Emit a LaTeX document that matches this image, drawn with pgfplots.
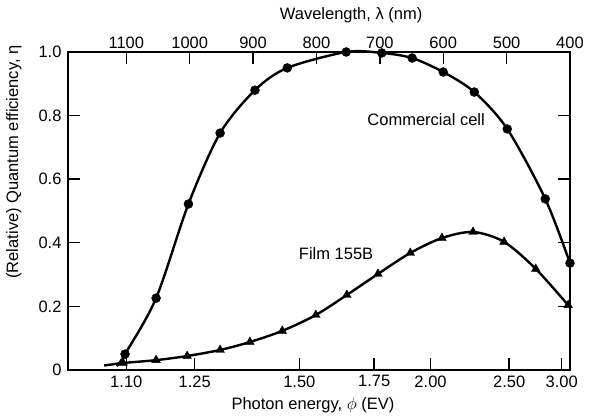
\documentclass[border=0pt]{standalone}
\usepackage{fontspec}
\setmainfont{Liberation Sans}
\usepackage{pgfplots}
\pgfplotsset{compat=1.18}
\begin{document}
\begin{tikzpicture}
\pgfplotsset{
  base/.style={
    scale only axis,
    width=502bp, height=318bp,
    x dir=reverse,
    xmin=400, xmax=1192,
    ymin=0, ymax=1,
    axis line style={line width=1.6bp},
    every tick/.style={black, line width=1.4bp},
    major tick length=12bp,
    tick align=inside,
    tick label style={font=\fontsize{16.5bp}{19bp}\selectfont},
    label style={font=\fontsize{16.5bp}{19bp}\selectfont},
    /pgf/number format/assume math mode=true,
    clip=false,
  }
}
\begin{axis}[
  base,
  name=ax,
  xtick pos=bottom,
  ytick pos=both,
  yticklabel pos=left,
  xtick={1100,992,827,709,620,496,413},
  xticklabels={1.10,1.25,1.50,1.75,2.00,2.50,3.00},
  ytick={0,0.2,0.4,0.6,0.8,1.0},
  yticklabels={0,0.2,0.4,0.6,0.8,1.0},
  xticklabel style={yshift=-2bp},
  yticklabel style={xshift=-3bp},
  xlabel={Photon energy, $\phi$ (EV)},
  xlabel style={at={(axis description cs:0.488,0)}, anchor=center, yshift=-35bp},
  ylabel={(Relative) Quantum efficiency, η},
  ylabel style={at={(axis description cs:-0.1076,0.654)}, anchor=center},
]
% Commercial cell
\addplot[black, line width=2.4bp, smooth, tension=0.5, no marks] coordinates {
(1115,0.012) (1102,0.050) (1053,0.226) (1002,0.522) (952,0.745) (897,0.880)
(846,0.950) (753,1.000) (697,0.997) (649,0.981) (600,0.937) (551,0.874)
(499,0.758) (439,0.538) (400,0.336)
};
\addplot[black, only marks, mark=*, mark size=4.5bp] coordinates {
(1102,0.050) (1053,0.226) (1002,0.522) (952,0.745) (897,0.880)
(846,0.950) (753,1.000) (697,0.997) (649,0.981) (600,0.937) (551,0.874)
(499,0.758) (439,0.538) (400,0.336)
};
% Film 155B
\addplot[black, line width=2.4bp, smooth, tension=0.5, no marks] coordinates {
(1135,0.014) (1105,0.022) (1053,0.031) (1004,0.044) (952,0.063) (905,0.088)
(854,0.123) (801,0.173) (752,0.236) (703,0.302) (652,0.368) (602,0.415)
(553,0.434) (504,0.403) (454,0.318) (403,0.204)
};
\addplot[black, only marks, mark=triangle*, mark size=5bp] coordinates {
(1105,0.022) (1053,0.031) (1004,0.044) (952,0.063) (905,0.088)
(854,0.123) (801,0.173) (752,0.236) (703,0.302) (652,0.368) (602,0.415)
(553,0.434) (504,0.403) (454,0.318) (403,0.204)
};
\node[font=\fontsize{16.5bp}{19bp}\selectfont] at (axis cs:627,0.786) {Commercial cell};
\node[font=\fontsize{16.5bp}{19bp}\selectfont] at (axis cs:769,0.365) {Film 155B};
\end{axis}
\begin{axis}[
  base,
  hide y axis,
  xtick pos=top,
  xticklabel pos=top,
  xtick={400,500,600,700,800,900,1000,1100},
  xticklabels={400,500,600,700,800,900,1000,1100},
  xlabel={Wavelength, λ (nm)},
  xlabel style={at={(axis description cs:0.564,1)}, anchor=center, yshift=37bp},
]
\end{axis}
\pgfresetboundingbox
\path[use as bounding box] ([xshift=-68bp,yshift=-46bp]ax.south west) rectangle ([xshift=19bp,yshift=52bp]ax.north east);
\end{tikzpicture}
\end{document}
